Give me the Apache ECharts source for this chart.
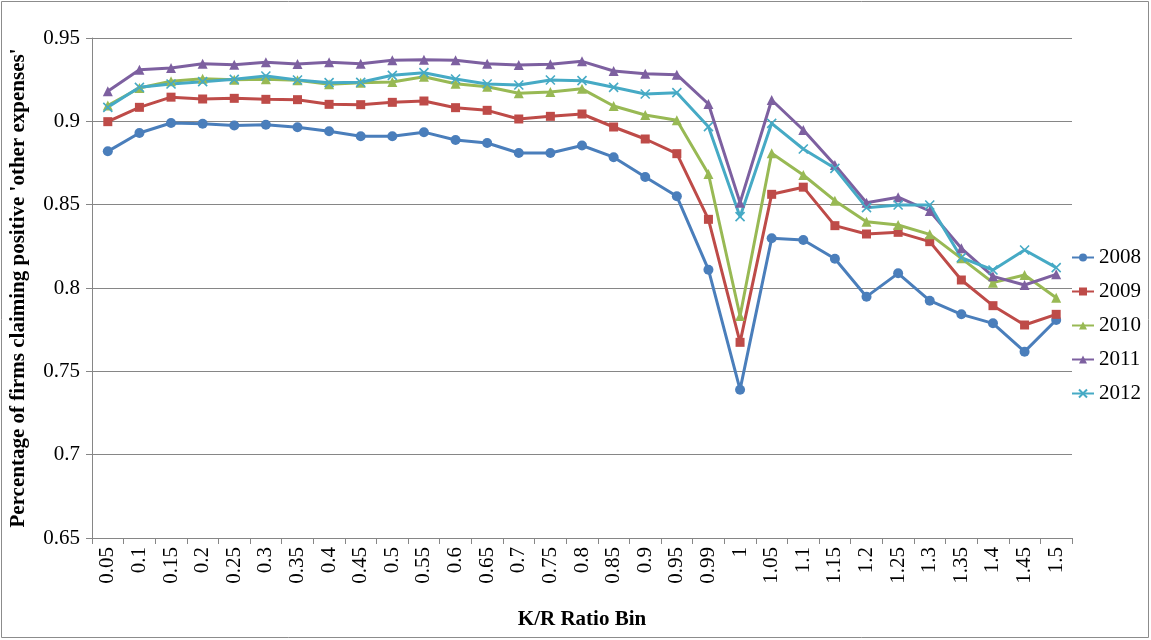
<!DOCTYPE html>
<html>
<head>
<meta charset="utf-8">
<script src="https://cdn.jsdelivr.net/npm/echarts@6/dist/echarts.min.js"></script>
<style>
html,body{margin:0;padding:0;background:#fff;}
#main{width:1151px;height:640px;}
</style>
</head>
<body>
<div id="main"></div>
<script>
// K/R ratio bins
var bins = ['0.05','0.1','0.15','0.2','0.25','0.3','0.35','0.4','0.45','0.5','0.55','0.6','0.65','0.7','0.75','0.8',
    '0.85','0.9','0.95','0.99','1','1.05','1.1','1.15','1.2','1.25','1.3','1.35','1.4','1.45','1.5'];

var y2008 = [0.882,0.893,0.899,0.8985,0.8975,0.898,0.8965,0.894,0.891,0.891,0.8935,0.8888,0.887,0.881,0.881,0.8855,
    0.8785,0.8666,0.855,0.811,0.739,0.8298,0.8288,0.8175,0.7948,0.8088,0.7924,0.7842,0.7788,0.7618,0.7808];
var y2009 = [0.8998,0.9084,0.9145,0.9134,0.9138,0.9132,0.913,0.9102,0.91,0.9114,0.9122,0.9082,0.9066,0.9014,0.903,0.9044,
    0.8966,0.8894,0.8806,0.8412,0.7674,0.8562,0.8605,0.8374,0.8324,0.8334,0.8278,0.8048,0.7894,0.7778,0.7842];
var y2010 = [0.9095,0.92,0.924,0.9255,0.925,0.9252,0.9246,0.9222,0.9232,0.9236,0.9268,0.9226,0.9208,0.9168,0.9176,0.9195,
    0.9092,0.9038,0.9006,0.8684,0.7832,0.8808,0.8678,0.8524,0.8398,0.8378,0.8322,0.8178,0.8032,0.8078,0.7942];
var y2011 = [0.918,0.931,0.932,0.9345,0.934,0.9355,0.9344,0.9354,0.9346,0.9366,0.937,0.9366,0.9346,0.9338,0.9342,0.936,
    0.9302,0.9286,0.928,0.9104,0.8512,0.9128,0.8948,0.8738,0.8512,0.8545,0.8462,0.8238,0.807,0.8018,0.8082];
var y2012 = [0.9084,0.9204,0.9224,0.9238,0.9252,0.9272,0.9248,0.9232,0.9234,0.9276,0.9292,0.9254,0.9224,0.9218,0.9248,0.9244,
    0.9204,0.9164,0.9172,0.8968,0.8428,0.8988,0.8834,0.8718,0.8482,0.8498,0.8498,0.8182,0.8108,0.8228,0.8122];

var years = ['2008','2009','2010','2011','2012'];
var colors = ['#4A7EBB','#BE4B48','#98B954','#7D60A0','#46AAC5'];
var symbols = ['circle','rect','triangle','triangle','path://M0,0L10,10M10,0L0,10'];
var sizes = [10,9,10,10,9];
var values = [y2008,y2009,y2010,y2011,y2012];

var font = 'Liberation Serif';

function makeSeries(i){
    var isX = i == 4;
    return {
        name: years[i],
        type: 'line',
        data: values[i],
        symbol: symbols[i],
        symbolSize: sizes[i],
        showAllSymbol: true,
        lineStyle: {color: colors[i], width: 3},
        itemStyle: {
            color: colors[i],
            borderColor: colors[i],
            borderWidth: isX ? 1.6 : 0
        },
        emphasis: {disabled: true},
        animation: false
    };
}

var mchart = echarts.init(document.getElementById('main'));
var option = {
    backgroundColor: '#fff',
    color: colors,
    animation: false,
    grid: {left: 92, right: 79, top: 38, bottom: 102},
    graphic: [{
        type: 'rect',
        shape: {x: 1.5, y: 1.5, width: 1147, height: 636},
        style: {fill: 'none', stroke: '#8c8c8c', lineWidth: 1},
        silent: true
    }],
    legend: {
        orient: 'vertical',
        left: 1071,
        top: 247,
        padding: 0,
        itemWidth: 22,
        itemHeight: 10,
        itemGap: 13,
        textStyle: {fontFamily: font, fontSize: 21, color: '#000'},
        data: years
    },
    xAxis: {
        type: 'category',
        data: bins,
        boundaryGap: true,
        name: 'K/R Ratio Bin',
        nameLocation: 'middle',
        nameGap: 71,
        nameTextStyle: {fontFamily: font, fontSize: 21, fontWeight: 'bold', color: '#000'},
        axisLine: {lineStyle: {color: '#868686', width: 1}},
        axisTick: {show: true, alignWithLabel: false, length: 6, lineStyle: {color: '#868686'}},
        axisLabel: {rotate: 90, fontFamily: font, fontSize: 21, color: '#000', margin: 9, interval: 0}
    },
    yAxis: {
        type: 'value',
        min: 0.65,
        max: 0.95,
        interval: 0.05,
        name: "Percentage of firms claiming positive 'other expenses'",
        nameLocation: 'middle',
        nameGap: 63,
        nameTextStyle: {fontFamily: font, fontSize: 21, fontWeight: 'bold', color: '#000'},
        axisLine: {show: true, lineStyle: {color: '#868686', width: 1}},
        axisTick: {show: true, length: 6, lineStyle: {color: '#868686'}},
        axisLabel: {fontFamily: font, fontSize: 21, color: '#000', margin: 12,
            formatter: function(v){ return String(parseFloat(v.toFixed(2))); }},
        splitLine: {lineStyle: {color: '#868686', width: 1}}
    },
    series: [0,1,2,3,4].map(makeSeries)
};
mchart.setOption(option);
</script>
</body>
</html>
